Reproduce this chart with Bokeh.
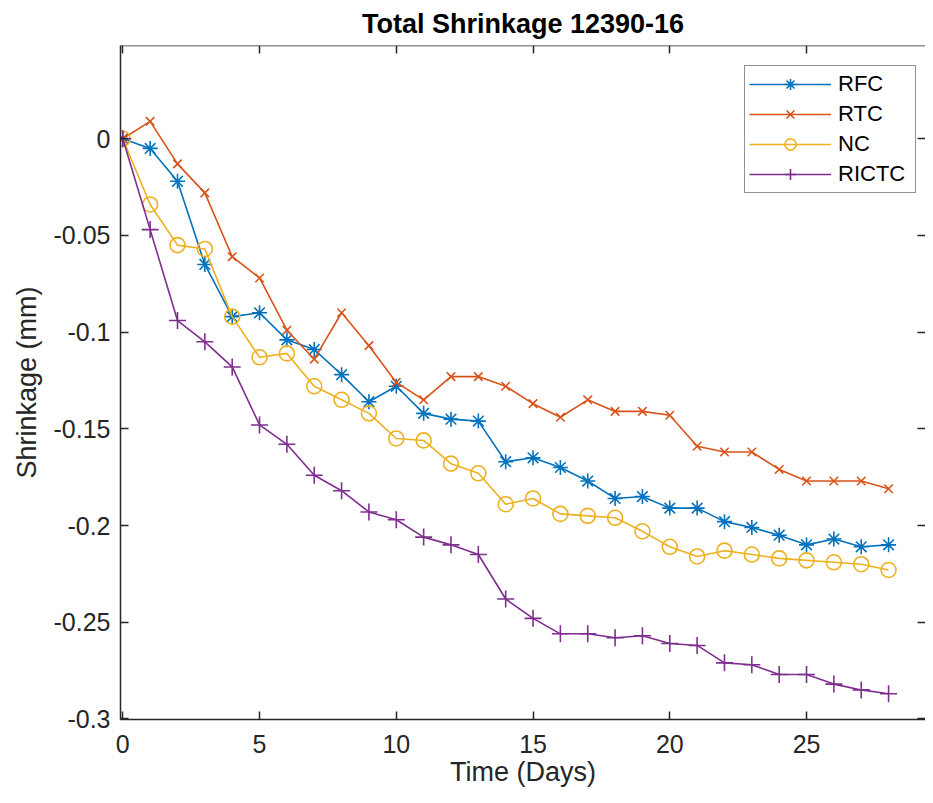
from bokeh.plotting import figure
from bokeh.models import (LinearAxis, FixedTicker, Range1d, Legend, LegendItem,
                          CustomLabelingPolicy)
from bokeh.embed import file_html
from bokeh.resources import INLINE

# ---- data ----
days = list(range(29))
rfc = [0, -0.005, -0.022, -0.065, -0.092, -0.090, -0.104, -0.109, -0.122, -0.136,
       -0.128, -0.142, -0.145, -0.146, -0.167, -0.165, -0.170, -0.177, -0.186, -0.185,
       -0.191, -0.191, -0.198, -0.201, -0.205, -0.210, -0.207, -0.211, -0.210]
rtc = [0, 0.009, -0.013, -0.028, -0.061, -0.072, -0.099, -0.114, -0.090, -0.107,
       -0.126, -0.135, -0.123, -0.123, -0.128, -0.137, -0.144, -0.135, -0.141, -0.141,
       -0.143, -0.159, -0.162, -0.162, -0.171, -0.177, -0.177, -0.177, -0.181]
nc = [0, -0.034, -0.055, -0.057, -0.092, -0.113, -0.111, -0.128, -0.135, -0.142,
      -0.155, -0.156, -0.168, -0.173, -0.189, -0.186, -0.194, -0.195, -0.196, -0.203,
      -0.211, -0.216, -0.213, -0.215, -0.217, -0.218, -0.219, -0.220, -0.223]
rictc = [0, -0.047, -0.094, -0.105, -0.118, -0.148, -0.158, -0.174, -0.182, -0.193,
         -0.197, -0.206, -0.210, -0.215, -0.238, -0.248, -0.256, -0.256, -0.258, -0.257,
         -0.261, -0.262, -0.271, -0.272, -0.277, -0.277, -0.282, -0.285, -0.287]

series_names = ["RFC", "RTC", "NC", "RICTC"]
x_ticks = [0, 5, 10, 15, 20, 25]
x_tick_labels = ["0", "5", "10", "15", "20", "25"]
y_ticks = [-0.3, -0.25, -0.2, -0.15, -0.1, -0.05, 0]
y_tick_labels = ["-0.3", "-0.25", "-0.2", "-0.15", "-0.1", "-0.05", "0"]

FONT = "Liberation Sans"
AX = "#262626"
X0, X1 = -0.084, 29.35
Y0, Y1 = -0.3003, 0.0482

p = figure(width=925, height=795, output_backend="svg", toolbar_location=None,
           x_range=Range1d(X0, X1), y_range=Range1d(Y0, Y1),
           min_border_left=120, min_border_right=0, min_border_top=44,
           min_border_bottom=76)
p.outline_line_color = None
p.background_fill_color = "white"
p.border_fill_color = "white"
p.xgrid.visible = False
p.ygrid.visible = False

p.title.text = "Total Shrinkage 12390-16"
p.title.align = "center"
p.title.text_font = FONT
p.title.text_font_size = "27px"
p.title.text_font_style = "bold"
p.title.text_color = "#000000"
p.title.standoff = 13


def style_axis(ax):
    ax.axis_line_color = AX
    ax.axis_line_width = 1.5
    ax.major_tick_line_color = AX
    ax.major_tick_line_width = 1.5
    ax.major_tick_in = 8
    ax.major_tick_out = 0
    ax.minor_tick_line_color = None
    ax.major_label_text_font = FONT
    ax.major_label_text_color = AX
    ax.major_label_text_font_size = "25px"
    ax.axis_label_text_font = FONT
    ax.axis_label_text_font_size = "27px"
    ax.axis_label_text_font_style = "normal"
    ax.axis_label_text_color = AX


xax = p.xaxis[0]
xax.ticker = FixedTicker(ticks=x_ticks)
xax.major_label_overrides = dict(zip(x_ticks, x_tick_labels))
style_axis(xax)
xax.major_label_standoff = 15
xax.axis_label = "Time (Days)"
xax.axis_label_standoff = 1

yax = p.yaxis[0]
yax.ticker = FixedTicker(ticks=y_ticks)
yax.major_label_overrides = dict(zip(y_ticks, y_tick_labels))
style_axis(yax)
yax.major_label_standoff = 10
yax.axis_label = "Shrinkage (mm)"
yax.axis_label_standoff = 9

# box-style ticks on the top and right edges (no labels)
top = LinearAxis(ticker=FixedTicker(ticks=x_ticks), fixed_location=Y1,
                 major_label_policy=CustomLabelingPolicy(code="return []"))
style_axis(top)
p.add_layout(top, "above")

right = LinearAxis(ticker=FixedTicker(ticks=y_ticks), fixed_location=X1,
                   major_label_policy=CustomLabelingPolicy(code="return []"))
style_axis(right)
right.axis_line_color = None
p.add_layout(right, "right")

colors = ["#0072BD", "#D95319", "#EDB120", "#7E2F8E"]
markers = ["asterisk", "x", "circle", "cross"]
sizes = [15, 12, 15, 17]
values = [rfc, rtc, nc, rictc]

items = []
for name, vals, col, mk, sz in zip(series_names, values, colors, markers, sizes):
    lr = p.line(days, vals, line_color=col, line_width=1.6)
    sr = p.scatter(days, vals, marker=mk, size=sz, line_color=col,
                   fill_color=None, line_width=1.6)
    items.append(LegendItem(label=name, renderers=[lr, sr]))

legend = Legend(items=items, location=(624, 526))
legend.label_text_font = FONT
legend.label_text_font_size = "22px"
legend.label_text_color = "#000000"
legend.glyph_width = 82
legend.glyph_height = 28
legend.label_height = 28
legend.label_width = 73
legend.label_standoff = 7
legend.spacing = 2
legend.padding = 4
legend.margin = 0
legend.border_line_color = AX
legend.border_line_width = 1.5
legend.background_fill_color = "white"
legend.background_fill_alpha = 1.0
p.add_layout(legend, "center")

open("out.html", "w").write(file_html(p, INLINE))
